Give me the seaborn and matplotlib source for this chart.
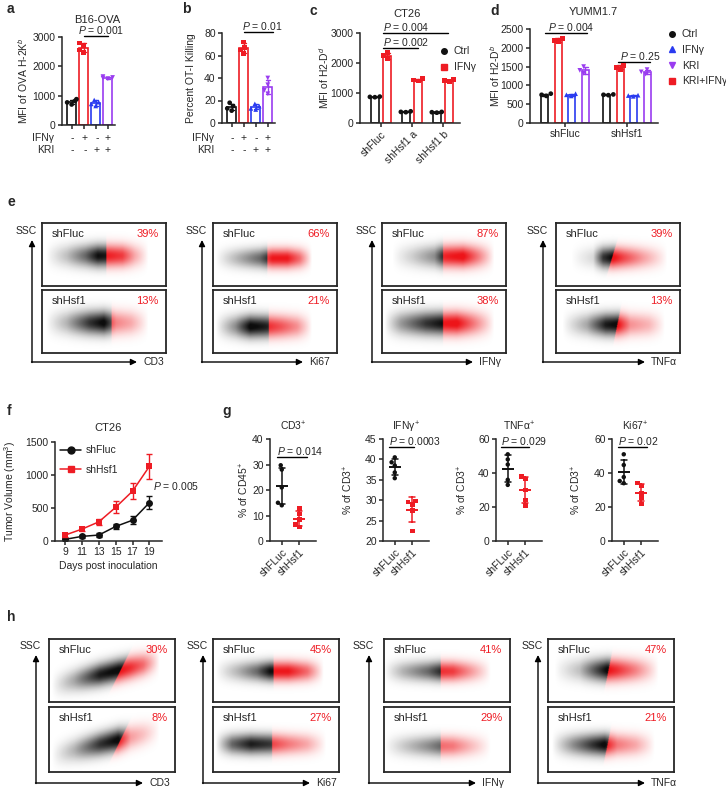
import numpy as np
import pandas as pd
import seaborn as sns
import matplotlib.pyplot as plt
from matplotlib.lines import Line2D

sns.set_style('ticks')
plt.rcParams['font.family'] = ['Liberation Sans', 'DejaVu Sans']
plt.rcParams['mathtext.fontset'] = 'custom'
plt.rcParams['mathtext.rm'] = 'Liberation Sans'
plt.rcParams['mathtext.it'] = 'Liberation Sans:italic'
plt.rcParams['font.size'] = 7.5
plt.rcParams['axes.linewidth'] = 1.1
plt.rcParams['xtick.major.width'] = 1.1
plt.rcParams['ytick.major.width'] = 1.1
plt.rcParams['xtick.major.size'] = 3
plt.rcParams['ytick.major.size'] = 3
plt.rcParams['xtick.major.pad'] = 1.5
plt.rcParams['ytick.major.pad'] = 1.5

# ---- data ----
BLK, RED, BLU, PUR = '#111111', '#ee1c24', '#2a3bf0', '#9a3cf0'

# a: B16-OVA, MFI of OVA H-2Kb
a_conds = ['Ctrl', 'IFNγ', 'KRI', 'KRI+IFNγ']
a_ctrl = [880, 820, 770, 700]
a_ifn = [2800, 2700, 2560, 2460]
a_kri = [850, 780, 720, 650]
a_both = [1650, 1620, 1600, 1580]

# b: percent OT-I killing
b_ctrl = [18, 15, 13, 11]
b_ifn = [72, 67, 65, 62]
b_kri = [17, 15, 13, 12]
b_both = [40, 34, 29, 26]

# c: CT26, MFI of H2-Dd
c_groups = ['shFluc', 'shHsf1 a', 'shHsf1 b']
c_conds = ['Ctrl', 'IFNγ']
c_ctrl = [[880, 870, 860], [390, 370, 360], [370, 360, 345]]
c_ifn = [[2350, 2250, 2150], [1480, 1430, 1400], [1450, 1420, 1390]]

# d: YUMM1.7, MFI of H2-Db
d_groups = ['shFluc', 'shHsf1']
d_conds = ['Ctrl', 'IFNγ', 'KRI', 'KRI+IFNγ']
d_ctrl = [[780, 750, 720], [760, 750, 740]]
d_red = [[2250, 2200, 2160], [1530, 1480, 1430]]
d_blue = [[780, 750, 720], [740, 730, 710]]
d_purple = [[1500, 1400, 1320], [1420, 1360, 1300]]

# f: CT26 tumor growth
f_days = [9, 11, 13, 15, 17, 19]
f_fluc = [25, 70, 90, 220, 315, 580]
f_fluc_sd = [15, 20, 25, 45, 60, 100]
f_hsf1 = [90, 180, 290, 510, 755, 1130]
f_hsf1_sd = [25, 35, 45, 90, 120, 190]

# g: tumor infiltrating lymphocytes
g_titles = ['CD3$^{+}$', 'IFNγ$^{+}$', 'TNFα$^{+}$', 'Ki67$^{+}$']
g_ylabels = ['% of CD45$^{+}$', '% of CD3$^{+}$', '% of CD3$^{+}$', '% of CD3$^{+}$']
g_fluc = [[29.7, 28, 21, 15, 14], [40.5, 39.3, 38.5, 36.8, 35.4],
          [51, 48, 45, 36, 33], [51, 44.7, 37.6, 35.3, 34]]
g_hsf1 = [[12.8, 10.5, 8.5, 6.5, 5.5], [29.8, 29.5, 29, 27.5, 22.5],
          [38, 36.5, 30, 24, 21], [34, 32.4, 28, 25.3, 21.8]]
g_pvals = ['0.014', '0.0003', '0.029', '0.02']
g_yticks = [[0, 10, 20, 30, 40], [20, 25, 30, 35, 40, 45], [0, 20, 40, 60], [0, 20, 40, 60]]

# e / h flow panels
flow_markers = ['CD3', 'Ki67', 'IFNγ', 'TNFα']
e_pct_fluc = ['39%', '66%', '87%', '39%']
e_pct_hsf1 = ['13%', '21%', '38%', '13%']
h_pct_fluc = ['30%', '45%', '41%', '47%']
h_pct_hsf1 = ['8%', '27%', '29%', '21%']
# cloud outlines: gate, gate slope, x knots, density at knots, y centre, y spread, tilt
e_clouds = [
    [(0.52, 0.0, [0.03, 0.2, 0.35, 0.45, 0.55, 0.65, 0.75, 0.86], [0, 0.25, 0.6, 0.95, 0.9, 0.8, 0.35, 0], 0.48, 0.17, 0.0),
     (0.56, 0.0, [0.03, 0.2, 0.38, 0.5, 0.6, 0.72, 0.86], [0, 0.3, 0.8, 1.0, 0.5, 0.35, 0], 0.48, 0.18, 0.0)],
    [(0.44, 0.0, [0.02, 0.2, 0.38, 0.48, 0.6, 0.7, 0.8], [0, 0.3, 0.6, 0.95, 0.95, 0.6, 0], 0.44, 0.15, 0.0),
     (0.45, 0.0, [0.02, 0.18, 0.3, 0.42, 0.55, 0.68, 0.8], [0, 0.45, 1.0, 0.9, 0.7, 0.45, 0], 0.42, 0.17, 0.0)],
    [(0.49, 0.0, [0.08, 0.25, 0.42, 0.5, 0.65, 0.78, 0.9], [0, 0.2, 0.45, 0.9, 1.0, 0.5, 0], 0.47, 0.17, 0.0),
     (0.49, 0.0, [0.02, 0.15, 0.35, 0.48, 0.6, 0.75, 0.9], [0, 0.4, 0.8, 0.95, 1.0, 0.5, 0], 0.47, 0.18, 0.0)],
    [(0.46, 0.15, [0.12, 0.3, 0.38, 0.46, 0.55, 0.7, 0.9], [0, 0.15, 0.8, 1.0, 0.75, 0.4, 0], 0.45, 0.16, 0.0),
     (0.5, 0.1, [0.05, 0.25, 0.4, 0.5, 0.6, 0.75, 0.88], [0, 0.35, 0.9, 1.0, 0.45, 0.3, 0], 0.45, 0.17, 0.0)],
]
h_clouds = [
    [(0.57, 0.25, [0.02, 0.2, 0.4, 0.55, 0.65, 0.75, 0.88], [0, 0.35, 0.9, 1.0, 0.85, 0.6, 0], 0.47, 0.17, 0.45),
     (0.57, 0.25, [0.02, 0.2, 0.4, 0.55, 0.65, 0.75, 0.88], [0, 0.3, 0.8, 1.0, 0.4, 0.25, 0], 0.47, 0.17, 0.45)],
    [(0.48, 0.0, [0.02, 0.2, 0.35, 0.45, 0.6, 0.75, 0.88], [0, 0.3, 0.6, 0.95, 0.95, 0.6, 0], 0.48, 0.15, 0.0),
     (0.47, 0.0, [0.02, 0.15, 0.3, 0.45, 0.6, 0.75, 0.9], [0, 0.6, 0.9, 0.8, 0.55, 0.35, 0], 0.43, 0.15, 0.0)],
    [(0.45, 0.0, [0.0, 0.15, 0.35, 0.45, 0.55, 0.68, 0.85], [0, 0.3, 0.6, 0.85, 0.8, 0.45, 0], 0.48, 0.15, 0.0),
     (0.45, 0.0, [0.0, 0.15, 0.35, 0.45, 0.55, 0.68, 0.85], [0, 0.2, 0.45, 0.6, 0.55, 0.3, 0], 0.4, 0.15, 0.0)],
    [(0.48, 0.1, [0.05, 0.25, 0.38, 0.47, 0.55, 0.7, 0.88], [0, 0.25, 0.7, 1.0, 0.85, 0.5, 0], 0.5, 0.17, 0.0),
     (0.48, 0.1, [0.03, 0.2, 0.35, 0.45, 0.55, 0.7, 0.85], [0, 0.45, 0.8, 1.0, 0.55, 0.35, 0], 0.42, 0.16, 0.0)],
]

# ---- figure ----
W, H = 726, 793
fig = plt.figure(figsize=(W / 100, H / 100), dpi=100)


def rect(l, t, r, b):
    return [l / W, 1 - b / H, (r - l) / W, (b - t) / H]


deco = fig.add_axes([0, 0, 1, 1], zorder=5)
deco.set_xlim(0, W)
deco.set_ylim(H, 0)
deco.axis('off')
deco.patch.set_alpha(0)


def ylab(ax, text, x, y):
    # x is the right edge of the rotated label, in figure pixels
    ax.set_ylabel(text, fontsize=7.5)
    ax.yaxis.set_label_coords(x, y, transform=deco.transData)


def pbar(ax, x0, x1, y, text, tx=None):
    ax.plot([x0, x1], [y, y], color='k', lw=1, clip_on=False)
    ax.text(x0 if tx is None else tx, y, text, ha='left', va='bottom', fontsize=7.5)


def bars(ax, groups, hues, values, pal, marks, width, gap):
    rows = []
    for gi, g in enumerate(groups):
        for hi, h in enumerate(hues):
            for v in values[hi][gi]:
                rows.append((g, h, v))
    df = pd.DataFrame(rows, columns=['grp', 'cond', 'val'])
    same = groups == hues
    sns.barplot(data=df, x='grp', y='val', hue='cond', order=groups, hue_order=hues,
                palette=pal, fill=False, errorbar='sd', capsize=0.35, width=width, gap=gap,
                linewidth=1.2, err_kws={'linewidth': 1.0}, legend=False, ax=ax,
                dodge=not same)
    for h in hues:
        sub = df[df['cond'] == h]
        sns.swarmplot(data=sub, x='grp', y='val', hue='cond', order=groups, hue_order=hues,
                      palette=pal, dodge=not same, marker=marks[h], size=3.4, linewidth=0,
                      legend=False, ax=ax)
    ax.set_xlabel('')
    sns.despine(ax=ax)


# ---- a ----
axa = fig.add_axes(rect(62, 37, 115, 125))
a_pal = dict(zip(a_conds, [BLK, RED, BLU, PUR]))
a_mk = dict(zip(a_conds, ['o', 's', '^', 'v']))
bars(axa, a_conds, a_conds, [[a_ctrl, [], [], []], [[], a_ifn, [], []], [[], [], a_kri, []], [[], [], [], a_both]],
     a_pal, a_mk, 0.75, 0)
axa.set_ylim(0, 3000)
axa.set_yticks([0, 1000, 2000, 3000])
axa.set_xlim(-0.8, 3.6)
axa.set_xticklabels([])
ylab(axa, 'MFI of OVA H-2K$^{b}$', 30, 81)
pbar(axa, 1, 3, 3040, '$\\mathit{P}$ = 0.001', tx=0.5)

# ---- b ----
axb = fig.add_axes(rect(222, 33, 275, 123))
bars(axb, a_conds, a_conds, [[b_ctrl, [], [], []], [[], b_ifn, [], []], [[], [], b_kri, []], [[], [], [], b_both]],
     a_pal, a_mk, 0.75, 0)
axb.set_ylim(0, 80)
axb.set_yticks([0, 20, 40, 60, 80])
axb.set_xlim(-0.8, 3.6)
axb.set_xticklabels([])
ylab(axb, 'Percent OT-I Killing', 196, 78)
pbar(axb, 1, 3.4, 81, '$\\mathit{P}$ = 0.01', tx=0.9)

# tables under a and b
for xs, xr in [([72, 85, 97, 108], 54), ([232, 244, 256, 268], 214)]:
    deco.text(xr, 138, 'IFNγ', ha='right', va='center', fontsize=7.5)
    deco.text(xr, 150, 'KRI', ha='right', va='center', fontsize=7.5)
    for x, s1, s2 in zip(xs, ['-', '+', '-', '+'], ['-', '-', '+', '+']):
        deco.text(x, 138, s1, ha='center', va='center', fontsize=7.5)
        deco.text(x, 150, s2, ha='center', va='center', fontsize=7.5)

# ---- c ----
axc = fig.add_axes(rect(360, 33, 460, 123))
c_pal = dict(zip(c_conds, [BLK, RED]))
c_mk = dict(zip(c_conds, ['o', 's']))
bars(axc, c_groups, c_conds, [c_ctrl, c_ifn], c_pal, c_mk, 0.8, 0.35)
axc.set_ylim(0, 3000)
axc.set_yticks([0, 1000, 2000, 3000])
axc.set_xlim(-0.68, 2.55)
axc.set_xticks(range(3))
axc.set_xticklabels(c_groups, rotation=45, ha='right', rotation_mode='anchor')
ylab(axc, 'MFI of H2-D$^{d}$', 331, 78)
pbar(axc, 0.06, 2.16, 3000, '$\\mathit{P}$ = 0.004')
pbar(axc, 0.06, 1.19, 2500, '$\\mathit{P}$ = 0.002')
axc.legend(handles=[Line2D([], [], ls='none', marker='o', ms=4, color=BLK),
                    Line2D([], [], ls='none', marker='s', ms=4, color=RED)],
           labels=c_conds, loc='upper left', bbox_to_anchor=(436 / W, 1 - 42 / H),
           bbox_transform=fig.transFigure, frameon=False, handlelength=0.8,
           handletextpad=0.5, labelspacing=0.6, fontsize=7.5, borderaxespad=0)

# ---- d ----
axd = fig.add_axes(rect(530, 29, 658, 123))
d_pal = dict(zip(d_conds, [BLK, RED, BLU, PUR]))
d_mk = dict(zip(d_conds, ['o', 's', '^', 'v']))
bars(axd, d_groups, d_conds, [d_ctrl, d_red, d_blue, d_purple], d_pal, d_mk, 0.88, 0.5)
axd.set_ylim(0, 2500)
axd.set_yticks(range(0, 2501, 500))
axd.set_xlim(-0.565, 1.5)
axd.set_xticks([0, 1])
axd.set_xticklabels(d_groups)
ylab(axd, 'MFI of H2-D$^{b}$', 502, 76)
pbar(axd, -0.32, 0.35, 2394, '$\\mathit{P}$ = 0.004', tx=-0.27)
pbar(axd, 0.85, 1.37, 1622, '$\\mathit{P}$ = 0.25', tx=0.89)
axd.legend(handles=[Line2D([], [], ls='none', marker='o', ms=4, color=BLK),
                    Line2D([], [], ls='none', marker='^', ms=4, color=BLU),
                    Line2D([], [], ls='none', marker='v', ms=4, color=PUR),
                    Line2D([], [], ls='none', marker='s', ms=4, color=RED)],
           labels=d_conds, loc='upper left', bbox_to_anchor=(664 / W, 1 - 25 / H),
           bbox_transform=fig.transFigure, frameon=False, handlelength=0.8,
           handletextpad=0.5, labelspacing=0.55, fontsize=7.5, borderaxespad=0)


# ---- flow panels ----
def cloud(ax, spec):
    gate, gslope, xp, dp, yc, sy, tilt = spec
    gx = np.linspace(0, 1, 260)
    gy = np.linspace(0, 1, 130)
    X, Y = np.meshgrid(gx, gy)
    prof = np.interp(X, xp, dp)
    cen = yc + tilt * (X - 0.5)
    dens = prof * np.exp(-((Y - cen) / sy) ** 2)
    img = np.zeros(X.shape + (4,))
    red = X > gate + gslope * (Y - 0.5)
    img[..., 0] = np.where(red, 0.93, 0.05)
    img[..., 1] = np.where(red, 0.08, 0.05)
    img[..., 2] = np.where(red, 0.1, 0.05)
    img[..., 3] = np.clip(dens * 1.05, 0, 1)
    ax.imshow(img, extent=(0, 1, 0, 1), origin='lower', aspect='auto', interpolation='bilinear')


def flow_row(lefts, bw, tops, axis_x, axis_y, tip_y, tips, pct_top, pct_bot, clouds):
    for i in range(4):
        for j, (t, b) in enumerate(tops):
            ax = fig.add_axes(rect(lefts[i], t, lefts[i] + bw, b))
            cloud(ax, clouds[i][j])
            ax.set_xlim(0, 1)
            ax.set_ylim(0, 1)
            ax.set_xticks([])
            ax.set_yticks([])
            for s in ax.spines.values():
                s.set_linewidth(1.3)
            ax.text(0.08, 0.83, ['shFluc', 'shHsf1'][j], transform=ax.transAxes,
                    ha='left', va='center', fontsize=8)
            ax.text(0.94, 0.83, [pct_top, pct_bot][j][i], transform=ax.transAxes,
                    ha='right', va='center', fontsize=8, color=RED)
        ax0 = axis_x[i]
        deco.annotate('', xy=(ax0, tip_y), xytext=(ax0, axis_y + 0.5),
                      arrowprops=dict(arrowstyle='-|>', lw=1, color='k', mutation_scale=9,
                                      shrinkA=0, shrinkB=0))
        deco.annotate('', xy=(tips[i], axis_y), xytext=(ax0 - 0.5, axis_y),
                      arrowprops=dict(arrowstyle='-|>', lw=1, color='k', mutation_scale=9,
                                      shrinkA=0, shrinkB=0))
        deco.text(ax0 - 6, tip_y - 9, 'SSC', ha='center', va='center', fontsize=7.5)
        deco.text(tips[i] + 6, axis_y, flow_markers[i], ha='left', va='center', fontsize=7.5)


flow_row([42, 213, 382, 556], 124, [(223, 286), (290, 353)], [32, 202, 372, 543], 362, 240,
         [137, 303, 473, 645], e_pct_fluc, e_pct_hsf1, e_clouds)
flow_row([49, 213, 384, 548], 126, [(639, 702), (707, 772)], [36, 203, 369, 538], 783, 655,
         [143, 310, 476, 645], h_pct_fluc, h_pct_hsf1, h_clouds)

# ---- f ----
axf = fig.add_axes(rect(55, 442, 162, 541))
fdf = pd.DataFrame({'day': f_days * 2, 'vol': f_fluc + f_hsf1,
                    'grp': ['shFluc'] * 6 + ['shHsf1'] * 6})
sns.lineplot(data=fdf, x='day', y='vol', hue='grp', style='grp', palette=[BLK, RED],
             markers=['o', 's'], dashes=False, markersize=5, markeredgewidth=0,
             linewidth=1.1, ax=axf, legend=False)
axf.errorbar(f_days, f_fluc, yerr=f_fluc_sd, fmt='none', ecolor=BLK, elinewidth=1, capsize=2.5)
axf.errorbar(f_days, f_hsf1, yerr=f_hsf1_sd, fmt='none', ecolor=RED, elinewidth=1, capsize=2.5)
axf.set_xlim(7.8, 20.5)
axf.set_ylim(0, 1500)
axf.set_xticks(f_days)
axf.set_yticks([0, 500, 1000, 1500])
axf.set_xlabel('Days post inoculation', fontsize=7.5, labelpad=3)
ylab(axf, 'Tumor Volume (mm$^{3}$)', 18, 492)
sns.despine(ax=axf)
axf.legend(handles=[Line2D([], [], marker='o', ms=5, color=BLK, lw=1.1),
                    Line2D([], [], marker='s', ms=5, color=RED, lw=1.1)],
           labels=['shFluc', 'shHsf1'], loc='upper left', bbox_to_anchor=(56 / W, 1 - 441 / H),
           bbox_transform=fig.transFigure, frameon=False, handlelength=2.0,
           handletextpad=0.5, labelspacing=0.9, fontsize=7.5, borderaxespad=0)
deco.text(153, 486, '$\\mathit{P}$ = 0.005', ha='left', va='center', fontsize=7.5)
deco.text(108, 428, 'CT26', ha='center', va='center', fontsize=8)

# ---- g ----
g_lefts = [270, 383, 496, 612]
g_ylims = [(0, 40), (20, 45), (0, 60), (0, 60)]
g_lab_x = [251, 355, 469, 583]
g_lines = [(-0.28, 1.44, 33), (-0.35, 1.1, 43), (-0.4, 1.2, 55.3), (-0.35, 1.35, 55.3)]
for i in range(4):
    ax = fig.add_axes(rect(g_lefts[i], 439, g_lefts[i] + 46, 541))
    gdf = pd.DataFrame({'grp': ['shFLuc'] * 5 + ['shHsf1'] * 5, 'val': g_fluc[i] + g_hsf1[i]})
    sns.pointplot(data=gdf, x='grp', y='val', hue='grp', palette=[BLK, RED], errorbar='sd',
                  markers='_', markersize=9, markeredgewidth=1.4, linestyle='none',
                  capsize=0.35, err_kws={'linewidth': 1.1}, legend=False, ax=ax)
    for grp, mk in [('shFLuc', 'o'), ('shHsf1', 's')]:
        sns.swarmplot(data=gdf[gdf['grp'] == grp], x='grp', y='val', hue='grp',
                      order=['shFLuc', 'shHsf1'], hue_order=['shFLuc', 'shHsf1'],
                      palette=[BLK, RED], marker=mk, size=3.2, linewidth=0, legend=False, ax=ax)
    ax.set_xlim(-0.67, 1.95)
    ax.set_ylim(*g_ylims[i])
    ax.set_yticks(g_yticks[i])
    ax.set_xticks([0, 1])
    ax.set_xticklabels(['shFLuc', 'shHsf1'], rotation=45, ha='right', rotation_mode='anchor')
    ax.set_xlabel('')
    sns.despine(ax=ax)
    ylab(ax, g_ylabels[i], g_lab_x[i], 490)
    x0, x1, yv = g_lines[i]
    pbar(ax, x0, x1, yv, '$\\mathit{P}$ = ' + g_pvals[i])
    ax.set_title(g_titles[i], fontsize=7.5, pad=6)

# ---- titles and panel letters ----
deco.text(97, 20, 'B16-OVA', ha='center', va='center', fontsize=8)
deco.text(407, 14, 'CT26', ha='center', va='center', fontsize=8)
deco.text(593, 12, 'YUMM1.7', ha='center', va='center', fontsize=8)
for lab, x, y in [('a', 7, 9), ('b', 182, 9), ('c', 310, 11), ('d', 490, 11),
                  ('e', 7, 202), ('f', 7, 411), ('g', 222, 411), ('h', 7, 617)]:
    deco.text(x, y, lab, ha='left', va='center', fontsize=10, fontweight='bold')

fig.savefig('out.png', dpi=100)
